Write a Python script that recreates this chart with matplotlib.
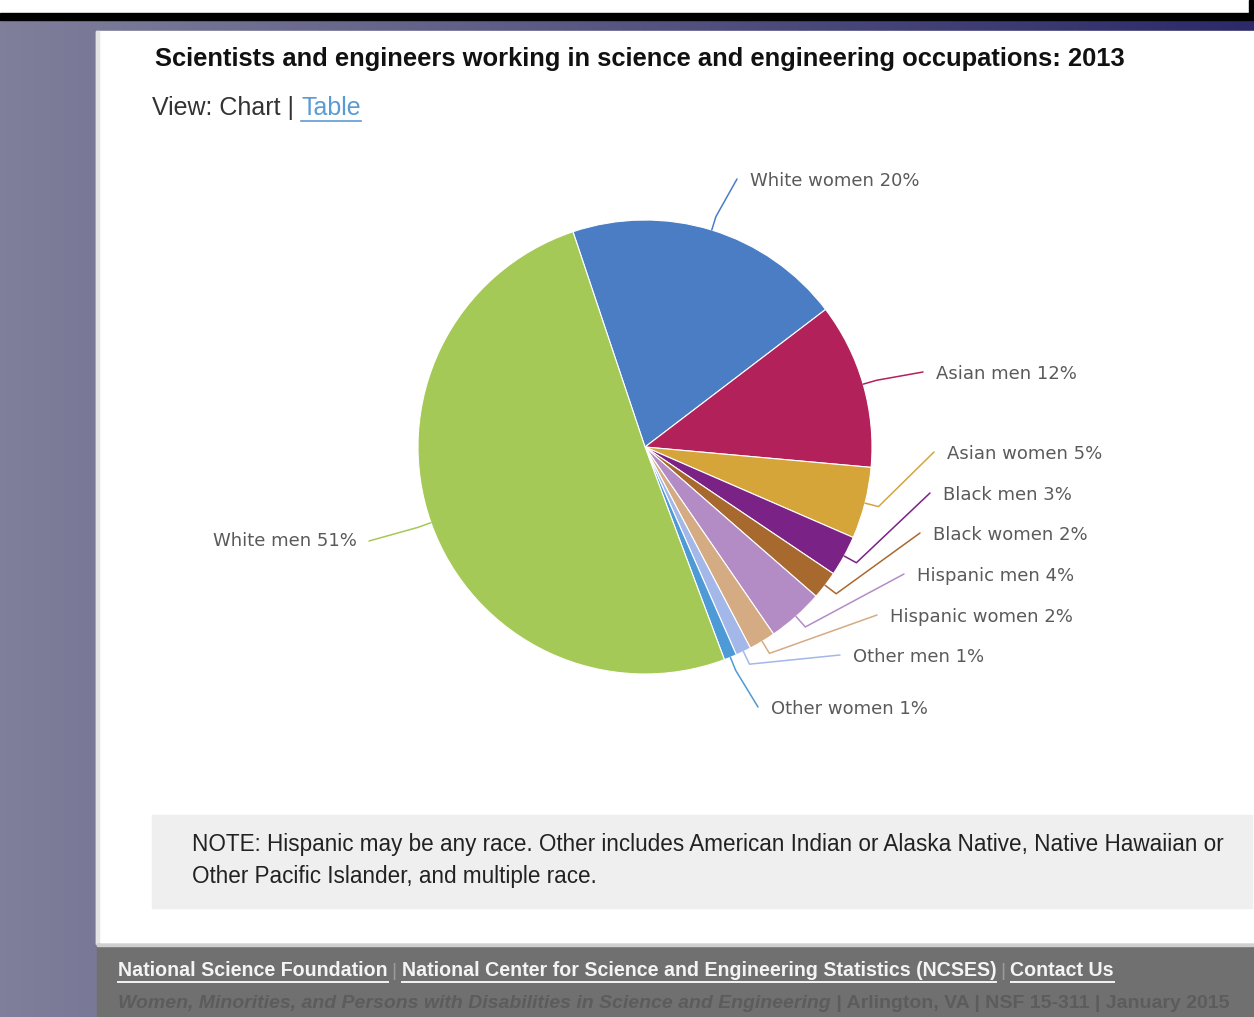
import numpy as np
import matplotlib
matplotlib.use("Agg")
import matplotlib.pyplot as plt
from matplotlib.patches import Rectangle

# ---- data ----
names = ['White women', 'Asian men', 'Asian women', 'Black men', 'Black women',
         'Hispanic men', 'Hispanic women', 'Other men', 'Other women', 'White men']
shares = [19.8, 11.8, 5.1, 2.9, 2.0, 4.0, 1.9, 1.1, 0.9, 50.6]
shown_pct = [20, 12, 5, 3, 2, 4, 2, 1, 1, 51]
colors = ['#4a7dc4', '#b3215a', '#d6a53a', '#7a2286', '#a8692f',
          '#b38cc6', '#d5ab83', '#a3b8e8', '#4e9ad6', '#a5c956']

title = 'Scientists and engineers working in science and engineering occupations: 2013'
note_lines = ['NOTE: Hispanic may be any race. Other includes American Indian or Alaska Native, Native Hawaiian or',
              'Other Pacific Islander, and multiple race.']
footer_links = ['National Science Foundation',
                'National Center for Science and Engineering Statistics (NCSES)',
                'Contact Us']
footer_pub = 'Women, Minorities, and Persons with Disabilities in Science and Engineering'
footer_rest = ' | Arlington, VA | NSF 15-311 | January 2015'

# label anchors in screenshot pixels (x, y); White men is right-aligned
label_xy = [(750, 181), (936, 374), (947, 454), (943, 495), (933, 535),
            (917, 576), (890, 617), (853, 657), (771, 709), (357, 541)]

W, H = 1254, 1017
def Y(y):
    return H - y

fig = plt.figure(figsize=(W / 100, H / 100), dpi=100)
ax = fig.add_axes([0, 0, 1, 1])
ax.set_xlim(0, W)
ax.set_ylim(0, H)
ax.axis('off')
r = fig.canvas.get_renderer()

def fit(txt, width):
    # shrink/grow a text so it spans the width seen in the screenshot
    w = txt.get_window_extent(r).width
    txt.set_fontsize(txt.get_fontsize() * width / w)
    return txt

def underline(txt, color, lw=1.2, off=1):
    bb = txt.get_window_extent(r)
    ax.plot([bb.x0, bb.x1], [bb.y0 - off, bb.y0 - off], color=color, lw=lw, zorder=3)

# slide background: horizontal gradient grey-violet -> navy
left = np.array([127, 127, 155]) / 255
right = np.array([44, 42, 104]) / 255
t = np.linspace(0, 1, 256)
grad = (left[None, :] * (1 - t[:, None]) + right[None, :] * t[:, None])[None, :, :]
ax.imshow(grad, extent=(0, W, 0, Y(20)), aspect='auto', zorder=0)
ax.add_patch(Rectangle((0, Y(13)), W, 13, color='white', zorder=1))
ax.add_patch(Rectangle((0, Y(20)), W, 7, color='black', zorder=1))
ax.add_patch(Rectangle((1249, Y(13)), 4, 13, color='black', zorder=1))

# white page, note box, footer
ax.add_patch(Rectangle((96, Y(944)), W - 96, 944 - 31, color='white', zorder=1))
ax.add_patch(Rectangle((96, Y(944)), 3, 944 - 31, color='#e4e4e4', zorder=1))
ax.add_patch(Rectangle((152, Y(908)), 1100, 93, color='#efefef', zorder=1))
ax.add_patch(Rectangle((97, 0), W - 97, H - 944, color='#707070', zorder=1))
ax.add_patch(Rectangle((97, Y(946)), W - 97, 2, color='#cfcfcf', zorder=1))

# header texts
tt = ax.text(155, Y(59), title, fontsize=15, fontweight='bold', family='Liberation Sans',
             color='#111111', va='center', zorder=3)
fit(tt, 972)
v1 = ax.text(152, Y(108), 'View: Chart | ', fontsize=18, family='Liberation Sans',
             color='#333333', va='center', zorder=3)
tab = ax.text(v1.get_window_extent(r).x1, Y(108), 'Table', fontsize=18,
              family='Liberation Sans', color='#5b9bd5', va='center', zorder=3)
underline(tab, '#5b9bd5')

# pie
wedges, _ = ax.pie(shares, colors=colors, startangle=108.5, counterclock=False,
                   center=(645, Y(447)), radius=227,
                   wedgeprops=dict(edgecolor='white', linewidth=0.8, zorder=2))
ax.set_xlim(0, W)
ax.set_ylim(0, H)
ax.set_aspect('auto')

cx, cy = 645, Y(447)
for w, name, pct, col, (lx, ly) in zip(wedges, names, shown_pct, colors, label_xy):
    mid = np.deg2rad((w.theta1 + w.theta2) / 2)
    d = np.array([np.cos(mid), np.sin(mid)])
    p0 = np.array([cx, cy]) + 227 * d
    p1 = p0 + 14 * d
    if name == 'White men':
        p2 = (lx + 12, Y(ly))
        ha = 'right'
    else:
        p2 = (lx - 13, Y(ly) + 2)
        ha = 'left'
    ax.plot([p0[0], p1[0], p2[0]], [p0[1], p1[1], p2[1]], color=col, lw=1.1,
            zorder=3, solid_capstyle='round')
    ax.text(lx, Y(ly), f'{name} {pct}%', fontsize=13, color='#5a5a5a',
            family='DejaVu Sans', ha=ha, va='center', zorder=3)

# note
n0 = ax.text(192, Y(845), note_lines[0], fontsize=16, family='Liberation Sans',
             color='#222222', va='center', zorder=3)
fit(n0, 1035)
ax.text(192, Y(877), note_lines[1], fontsize=n0.get_fontsize(), family='Liberation Sans',
        color='#222222', va='center', zorder=3)

# footer links
x = 118
for i, s in enumerate(footer_links):
    lk = ax.text(x, Y(971), s, fontsize=14.1, fontweight='bold', family='Liberation Sans',
                 color='#f4f4f4', va='center', zorder=3)
    underline(lk, '#f4f4f4', lw=1.4)
    x = lk.get_window_extent(r).x1
    if i < len(footer_links) - 1:
        sep = ax.text(x + 4, Y(971), '|', fontsize=14, family='Liberation Sans',
                      color='#9a9a9a', va='center', zorder=3)
        x = sep.get_window_extent(r).x1 + 5

pub = ax.text(118, Y(1004), footer_pub, fontsize=14, fontweight='bold', style='italic',
              family='Liberation Sans', color='#5c5c5c', va='center', zorder=3)
ax.text(pub.get_window_extent(r).x1, Y(1004), footer_rest, fontsize=14, fontweight='bold',
        family='Liberation Sans', color='#5c5c5c', va='center', zorder=3)

fig.savefig('out.png', dpi=100)
